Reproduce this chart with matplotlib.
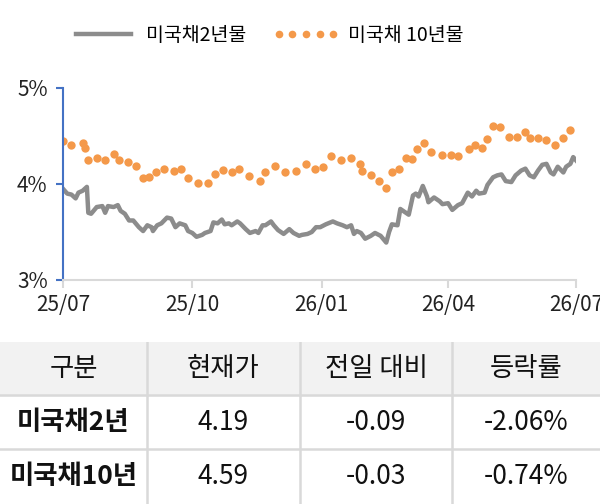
import numpy as np
import pandas as pd
import matplotlib
matplotlib.use("Agg")
import matplotlib.pyplot as plt
import matplotlib.dates as mdates
from matplotlib.lines import Line2D

plt.rcParams['font.family'] = ['Noto Sans CJK KR', 'DejaVu Sans']

# 미국채 2년물 (daily-ish trace), days since 2025-07-01
t2_days = [0, 3, 6, 9, 11, 14, 17, 18, 20, 24, 28, 30, 32, 36, 39, 41, 44, 47, 50, 54,
           57, 60, 63, 64, 67, 70, 74, 77, 80, 83, 87, 89, 92, 95, 99, 101, 105, 107, 110, 113,
           115, 118, 120, 124, 126, 130, 133, 137, 139, 142, 144, 148, 150, 153, 157, 161, 164, 168, 170, 174,
           177, 180, 183, 187, 192, 195, 199, 202, 205, 207, 209, 212, 215, 219, 222, 226, 230, 232, 234, 238,
           240, 244, 246, 249, 251, 253, 256, 259, 260, 264, 268, 270, 274, 277, 281, 284, 288, 291, 294, 296,
           300, 302, 306, 309, 312, 315, 319, 322, 326, 329, 332, 335, 338, 341, 344, 347, 349, 352, 356, 358,
           361, 363, 366]
t2_vals = [3.95, 3.90, 3.89, 3.85, 3.91, 3.93, 3.97, 3.70, 3.69, 3.76, 3.77, 3.70, 3.77, 3.76, 3.78, 3.72, 3.69, 3.62, 3.62, 3.55,
           3.51, 3.57, 3.55, 3.51, 3.57, 3.59, 3.65, 3.64, 3.55, 3.59, 3.57, 3.51, 3.49, 3.45, 3.47, 3.49, 3.51, 3.60, 3.59, 3.63,
           3.58, 3.59, 3.57, 3.61, 3.59, 3.53, 3.49, 3.51, 3.49, 3.57, 3.57, 3.61, 3.57, 3.52, 3.48, 3.53, 3.49, 3.46, 3.47, 3.48,
           3.50, 3.55, 3.55, 3.58, 3.61, 3.59, 3.57, 3.55, 3.57, 3.48, 3.51, 3.49, 3.43, 3.46, 3.49, 3.46, 3.39, 3.50, 3.58, 3.57,
           3.74, 3.70, 3.68, 3.88, 3.90, 3.87, 3.98, 3.87, 3.81, 3.86, 3.82, 3.79, 3.80, 3.73, 3.78, 3.80, 3.91, 3.87, 3.93, 3.90,
           3.91, 3.99, 4.07, 4.09, 4.10, 4.03, 4.02, 4.09, 4.14, 4.16, 4.09, 4.07, 4.14, 4.20, 4.21, 4.12, 4.10, 4.18, 4.12, 4.18,
           4.21, 4.28, 4.23]

# 미국채 10년물 (weekly-ish dots)
t10_days = [0, 6, 14, 16, 18, 24, 30, 36, 40, 46, 52, 57, 61, 66, 72, 79, 84, 89, 96, 103,
            108, 114, 120, 125, 132, 140, 144, 151, 158, 166, 173, 179, 185, 191, 198, 205, 211, 213, 219, 225,
            230, 234, 239, 244, 248, 252, 257, 262, 270, 276, 281, 289, 293, 298, 302, 306, 311, 317, 323, 329,
            332, 338, 344, 350, 356, 361]
t10_vals = [4.45, 4.41, 4.43, 4.37, 4.25, 4.27, 4.25, 4.31, 4.25, 4.23, 4.19, 4.06, 4.07, 4.12, 4.16, 4.14, 4.16, 4.06, 4.01, 4.01,
            4.10, 4.15, 4.12, 4.16, 4.08, 4.03, 4.13, 4.19, 4.13, 4.14, 4.21, 4.16, 4.18, 4.29, 4.25, 4.27, 4.21, 4.14, 4.09, 4.03,
            3.96, 4.12, 4.16, 4.27, 4.26, 4.36, 4.43, 4.33, 4.30, 4.30, 4.29, 4.36, 4.41, 4.38, 4.47, 4.60, 4.59, 4.49, 4.49, 4.54,
            4.48, 4.48, 4.46, 4.41, 4.48, 4.56]

start = pd.Timestamp('2025-07-01')
t2_dates = start + pd.to_timedelta(t2_days, unit='D')
t10_dates = start + pd.to_timedelta(t10_days, unit='D')

# table
col_headers = ['구분', '현재가', '전일 대비', '등락률']
row_names = ['미국채2년', '미국채10년']
cur_prices = ['4.19', '4.59']
day_changes = ['-0.09', '-0.03']
change_rates = ['-2.06%', '-0.74%']

gray = '#8c8c8c'
orange = '#f4994a'
blue = '#4472c4'
grid_gray = '#d9d9d9'

fig = plt.figure(figsize=(6, 5.04), dpi=100)

ax = fig.add_axes([63 / 600, 1 - 280 / 504, (576 - 63) / 600, 192 / 504])
ax.plot(t2_dates, t2_vals, color=gray, linewidth=3.2, solid_joinstyle='round')
ax.plot(t10_dates, t10_vals, linestyle='none', marker='o', markersize=6,
        color=orange, markeredgewidth=0)

ax.set_ylim(3, 5)
ax.set_yticks([3, 4, 5])
ax.set_yticklabels(['3%', '4%', '5%'])
ax.set_xlim(start, pd.Timestamp('2026-07-01'))
ax.set_xticks(pd.to_datetime(['2025-07-01', '2025-10-01', '2026-01-01', '2026-04-01', '2026-07-01']))
ax.xaxis.set_major_formatter(mdates.DateFormatter('%y/%m'))

for s in ['top', 'right']:
    ax.spines[s].set_visible(False)
ax.spines['left'].set_color(blue)
ax.spines['left'].set_linewidth(1.5)
ax.spines['bottom'].set_color(grid_gray)
ax.spines['bottom'].set_linewidth(1.5)
ax.tick_params(axis='y', colors=blue, length=5, width=1.5, labelsize=15, labelcolor='#222222', pad=6)
ax.tick_params(axis='x', colors=grid_gray, length=6, width=1.5, labelsize=15, labelcolor='#222222', pad=4)
ax.patch.set_alpha(0)

handles = [Line2D([], [], color=gray, linewidth=3.2),
           Line2D([], [], linestyle='none', marker='o', markersize=5.5, color=orange, markeredgewidth=0)]
fig.legend(handles, ['미국채2년물', '미국채 10년물'], loc='center', bbox_to_anchor=(0.445, 0.93),
           ncol=2, frameon=False, fontsize=14, numpoints=5, handlelength=3.4,
           columnspacing=1.4, handletextpad=0.45)

# table area
tx = fig.add_axes([0, 0, 1, 162 / 504])
tx.set_xlim(0, 600)
tx.set_ylim(162, 0)
tx.axis('off')

col_edges = [0, 147, 300, 452, 600]
row_edges = [0, 53, 107, 162]
tx.add_patch(plt.Rectangle((0, 0), 600, row_edges[1], color='#f2f2f2', zorder=0))
for xe in col_edges[1:-1]:
    tx.plot([xe, xe], [0, 162], color=grid_gray, linewidth=1.8, zorder=1)
for ye in row_edges[1:-1]:
    tx.plot([0, 600], [ye, ye], color=grid_gray, linewidth=1.8, zorder=1)

centers = [(col_edges[i] + col_edges[i + 1]) / 2 for i in range(4)]
for i, h in enumerate(col_headers):
    tx.text(centers[i], 26, h, ha='center', va='center', fontsize=19, fontweight='medium', color='#111111')

rows = list(zip(row_names, cur_prices, day_changes, change_rates))
for r, vals in enumerate(rows):
    yc = (row_edges[r + 1] + row_edges[r + 2]) / 2
    for i, v in enumerate(vals):
        tx.text(centers[i], yc, v, ha='center', va='center', fontsize=19,
                fontweight='bold' if i == 0 else 'normal', color='#111111')

fig.savefig('out.png', dpi=100)
